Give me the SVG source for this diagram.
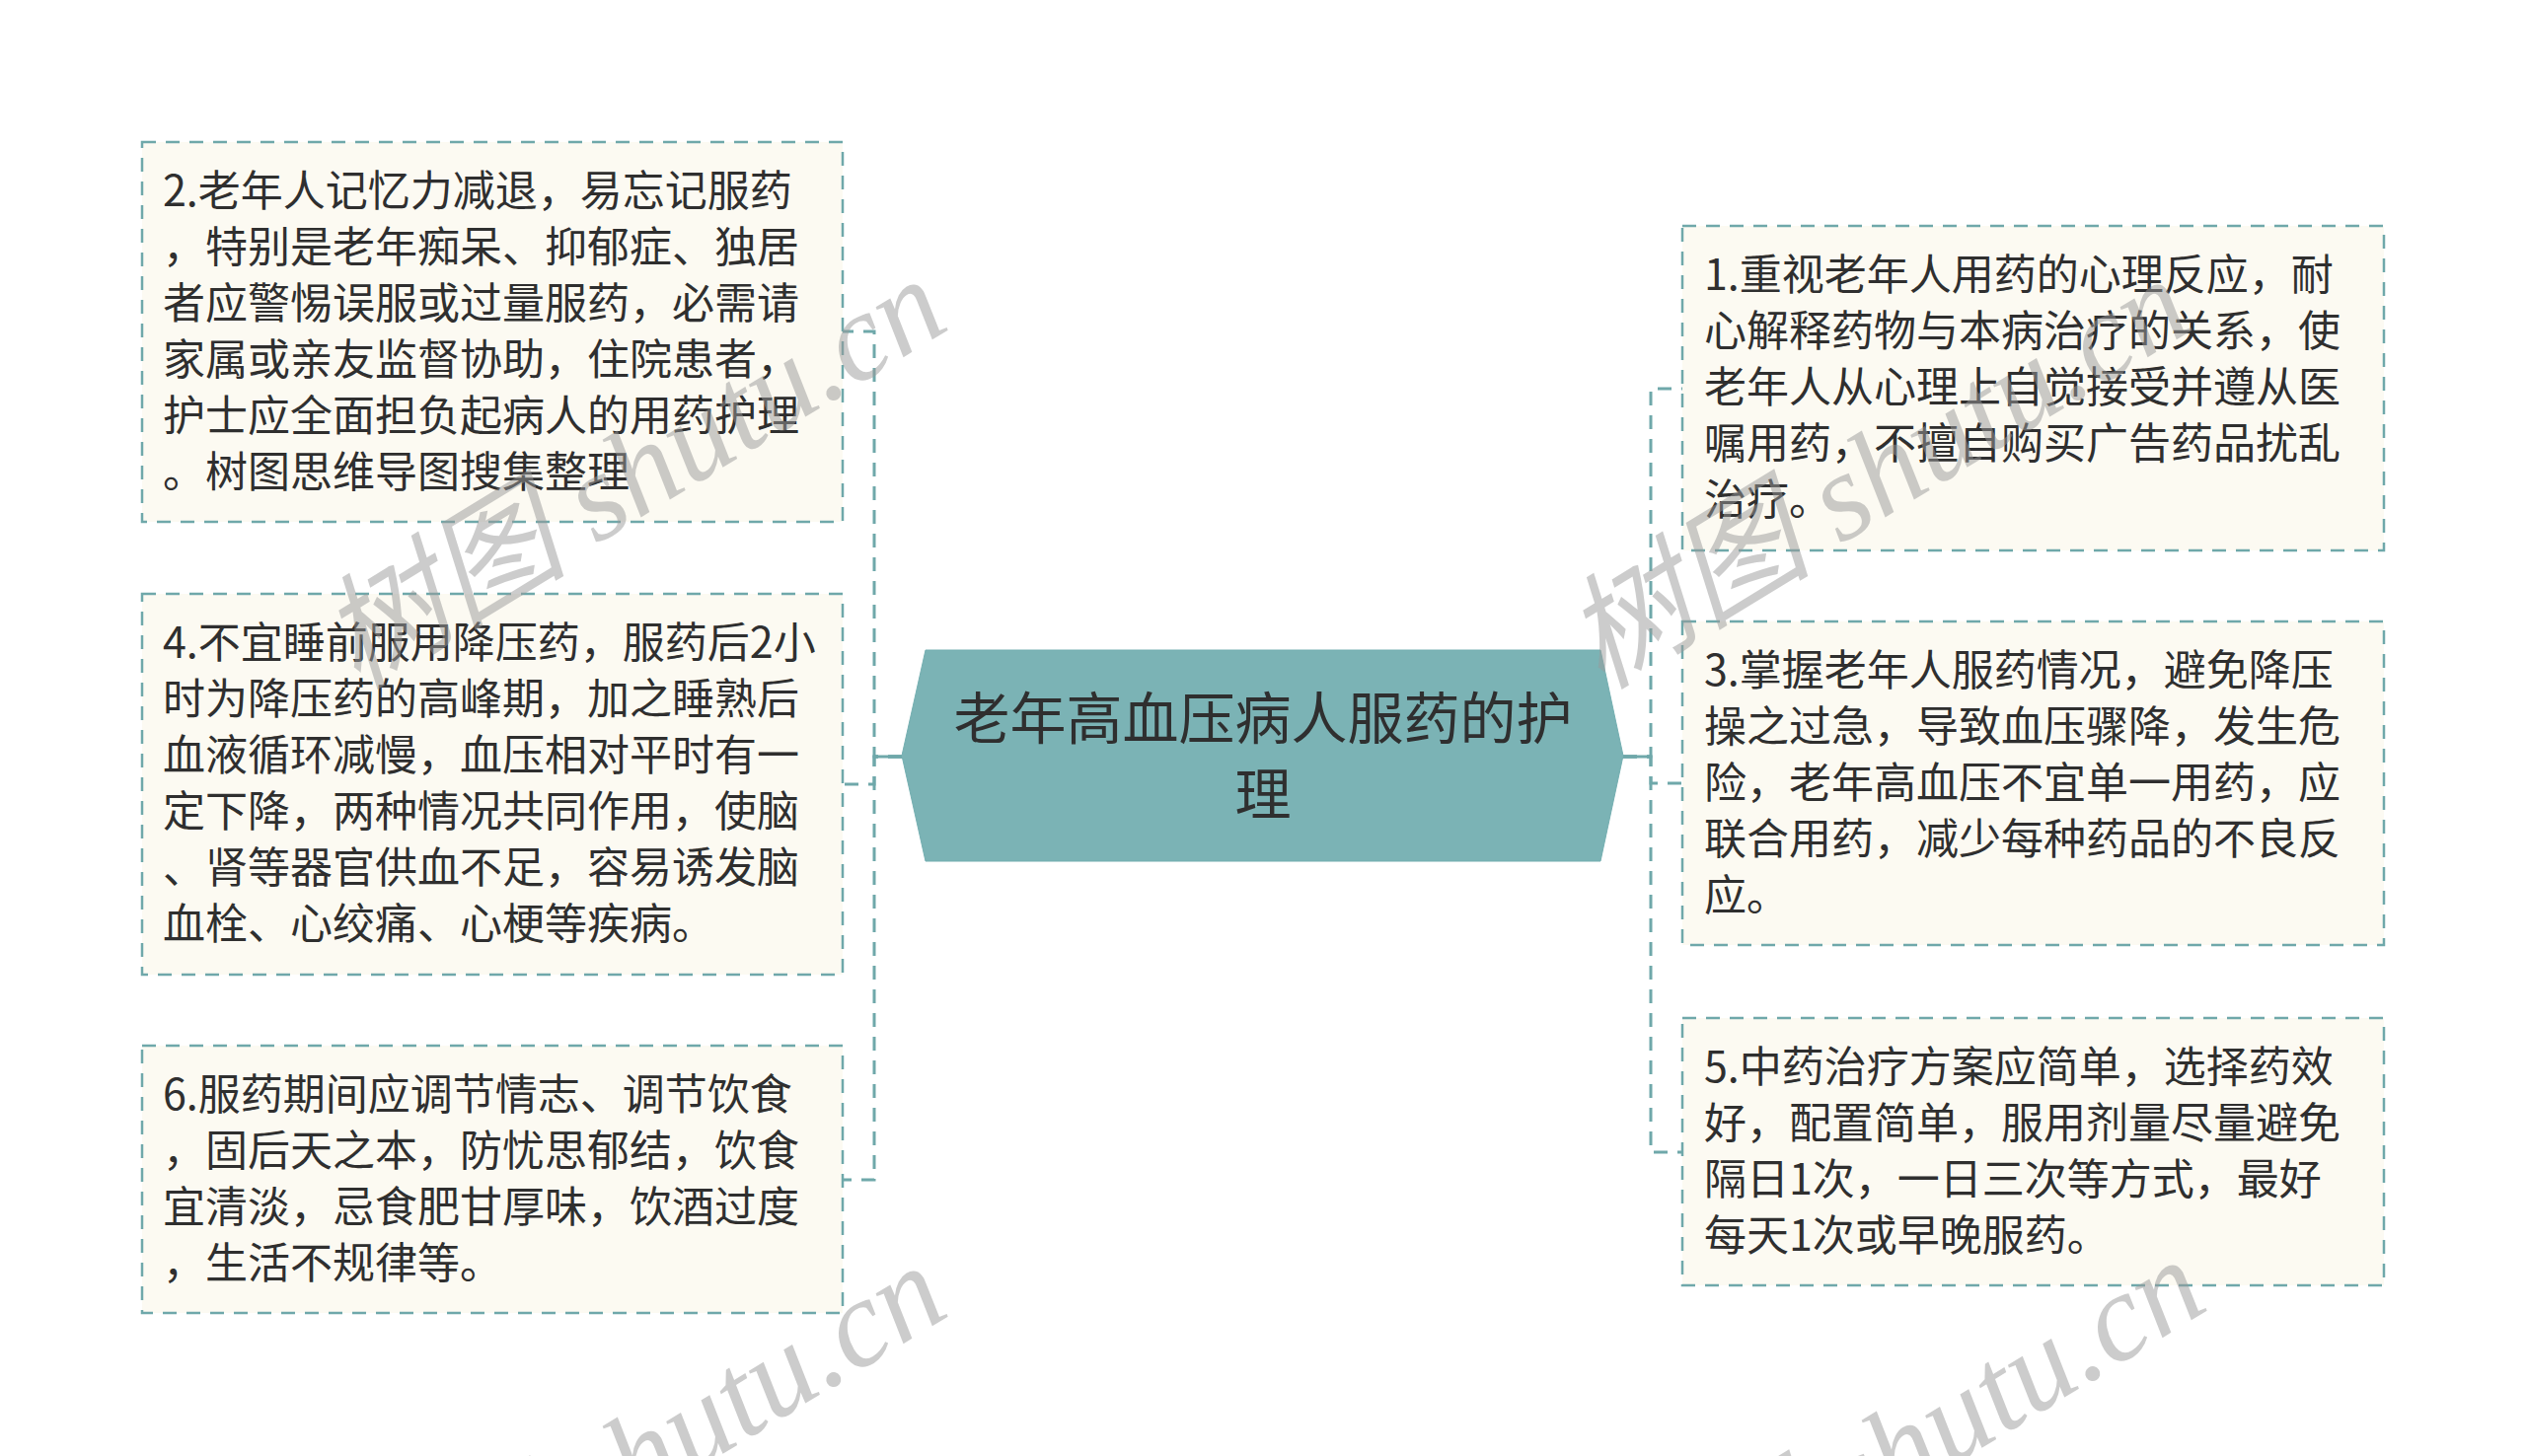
<svg xmlns="http://www.w3.org/2000/svg" width="2560" height="1476" viewBox="0 0 2560 1476">
<style>
.box{fill:#fcfaf2;stroke:#6fa8aa;stroke-width:2.5;stroke-dasharray:14 10}
.t{font-family:"Noto Sans CJK SC","Noto Sans",sans-serif;font-size:43px;fill:#2f2f2f}
.ct{font-family:"Noto Sans CJK SC","Noto Sans",sans-serif;font-size:57px;fill:#2f2f2f;text-anchor:middle}
.conn{fill:none;stroke:#6fa8aa;stroke-width:3;stroke-dasharray:14 10}
.wm{font-family:"Liberation Serif","Noto Sans CJK SC",serif;font-size:126px;font-style:italic;fill:#9a9a9a;opacity:0.5}
</style>
<rect width="2560" height="1476" fill="#ffffff"/>
<g id="connectors">
<path class="conn" d="M914,767 H886 V336 H854"/>
<path class="conn" d="M914,767 H886 V795 H854"/>
<path class="conn" d="M914,767 H886 V1196 H854"/>
<path class="conn" d="M1645,767 H1673 V394 H1705"/>
<path class="conn" d="M1645,767 H1673 V794 H1705"/>
<path class="conn" d="M1645,767 H1673 V1168 H1705"/>
<path d="M886,767 H914 M1645,767 H1673" stroke="#6fa8aa" stroke-width="3"/>
</g>
<g id="center">
<polygon points="938,659 1622,659 1645,766 1622,873 938,873 914,766" fill="#7bb3b5" stroke="#73aeb0" stroke-width="1"/>
<text class="ct" x="1280" y="749">老年高血压病人服药的护</text>
<text class="ct" x="1280" y="826">理</text>
</g>
<g id="n2">
<rect class="box" x="144" y="144" width="710" height="385"/>
<text class="t" x="165" y="209">2.老年人记忆力减退，易忘记服药</text>
<text class="t" x="165" y="266">，特别是老年痴呆、抑郁症、独居</text>
<text class="t" x="165" y="323">者应警惕误服或过量服药，必需请</text>
<text class="t" x="165" y="380">家属或亲友监督协助，住院患者，</text>
<text class="t" x="165" y="437">护士应全面担负起病人的用药护理</text>
<text class="t" x="165" y="494">。树图思维导图搜集整理</text>
</g>
<g id="n4">
<rect class="box" x="144" y="602" width="710" height="386"/>
<text class="t" x="165" y="667">4.不宜睡前服用降压药，服药后2小</text>
<text class="t" x="165" y="724">时为降压药的高峰期，加之睡熟后</text>
<text class="t" x="165" y="781">血液循环减慢，血压相对平时有一</text>
<text class="t" x="165" y="838">定下降，两种情况共同作用，使脑</text>
<text class="t" x="165" y="895">、肾等器官供血不足，容易诱发脑</text>
<text class="t" x="165" y="952">血栓、心绞痛、心梗等疾病。</text>
</g>
<g id="n6">
<rect class="box" x="144" y="1060" width="710" height="271"/>
<text class="t" x="165" y="1125">6.服药期间应调节情志、调节饮食</text>
<text class="t" x="165" y="1182">，固后天之本，防忧思郁结，饮食</text>
<text class="t" x="165" y="1239">宜清淡，忌食肥甘厚味，饮酒过度</text>
<text class="t" x="165" y="1296">，生活不规律等。</text>
</g>
<g id="n1">
<rect class="box" x="1705" y="229" width="711" height="329"/>
<text class="t" x="1727" y="294">1.重视老年人用药的心理反应，耐</text>
<text class="t" x="1727" y="351">心解释药物与本病治疗的关系，使</text>
<text class="t" x="1727" y="408">老年人从心理上自觉接受并遵从医</text>
<text class="t" x="1727" y="465">嘱用药，不擅自购买广告药品扰乱</text>
<text class="t" x="1727" y="522">治疗。</text>
</g>
<g id="n3">
<rect class="box" x="1705" y="630" width="711" height="328"/>
<text class="t" x="1727" y="695">3.掌握老年人服药情况，避免降压</text>
<text class="t" x="1727" y="752">操之过急，导致血压骤降，发生危</text>
<text class="t" x="1727" y="809">险，老年高血压不宜单一用药，应</text>
<text class="t" x="1727" y="866">联合用药，减少每种药品的不良反</text>
<text class="t" x="1727" y="923">应。</text>
</g>
<g id="n5">
<rect class="box" x="1705" y="1032" width="711" height="271"/>
<text class="t" x="1727" y="1097">5.中药治疗方案应简单，选择药效</text>
<text class="t" x="1727" y="1154">好，配置简单，服用剂量尽量避免</text>
<text class="t" x="1727" y="1211">隔日1次，一日三次等方式，最好</text>
<text class="t" x="1727" y="1268">每天1次或早晚服药。</text>
</g>
<g id="watermark">
<text class="wm" transform="translate(362,700) rotate(-31.4)">树图 shutu.cn</text>
<text class="wm" transform="translate(1623,700) rotate(-31.4)">树图 shutu.cn</text>
<text class="wm" transform="translate(362,1700) rotate(-31.4)">树图 shutu.cn</text>
<text class="wm" transform="translate(1638,1694) rotate(-31.4)">树图 shutu.cn</text>
</g>
</svg>
